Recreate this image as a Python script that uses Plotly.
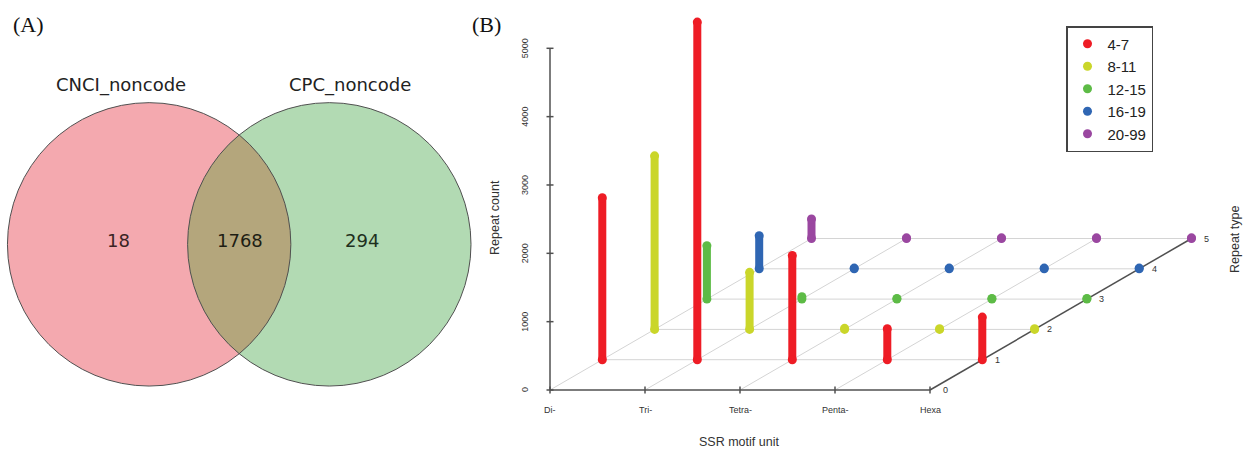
import numpy as np
import plotly.graph_objects as go

# ---------------- data ----------------
venn_sets = ["CNCI_noncode", "CPC_noncode"]
venn_only_a = 18
venn_both = 1768
venn_only_b = 294

motif_units = ["Di-", "Tri-", "Tetra-", "Penta-", "Hexa"]
repeat_types = ["4-7", "8-11", "12-15", "16-19", "20-99"]
counts_4_7 = [2370, 4940, 1525, 453, 624]
counts_8_11 = [2540, 835, 15, 10, 10]
counts_12_15 = [781, 35, 10, 10, 10]
counts_16_19 = [484, 10, 10, 10, 10]
counts_20_99 = [285, 10, 10, 10, 10]
series_counts = [counts_4_7, counts_8_11, counts_12_15, counts_16_19, counts_20_99]
series_colors = ["#EE1C25", "#CAD62A", "#5DBB46", "#2F66B3", "#9A47A0"]
count_ticks = [0, 1000, 2000, 3000, 4000, 5000]
depth_ticks = [0, 1, 2, 3, 4, 5]

# ---------------- geometry (pixels) ----------------
W, H = 1243, 450
X0PX, CATPX = 550.0, 95.0          # motif axis origin and step
Y0PX, CNTPX = 390.0, 341.7 / 5000  # count axis origin and px per count
DXPX, DYPX = 52.3, 30.3            # depth step (right / up)
DX = DXPX / CATPX
DY = DYPX / CNTPX


def proj(cat, depth, cnt):
    return cat + DX * depth, cnt + DY * depth


def px2cat(px):
    return (px - X0PX) / CATPX


def py2cnt(py):
    return (Y0PX - py) / CNTPX


fig = go.Figure()

# ---------- Panel B: grid ----------
gx, gy = [], []
ncat = len(motif_units)
for d in depth_ticks[1:]:
    a = proj(0, d, 0)
    b = proj(ncat - 1, d, 0)
    gx += [a[0], b[0], None]
    gy += [a[1], b[1], None]
for c in range(ncat - 1):
    a = proj(c, 0, 0)
    b = proj(c, depth_ticks[-1], 0)
    gx += [a[0], b[0], None]
    gy += [a[1], b[1], None]
fig.add_trace(go.Scatter(x=gx, y=gy, mode="lines", xaxis="x2", yaxis="y2",
                         line=dict(color="#D4D4D4", width=1), hoverinfo="skip", showlegend=False))

# ---------- axes lines ----------
ax_x, ax_y = [], []
a = proj(0, 0, 0); b = proj(ncat - 1, 0, 0)
ax_x += [a[0], b[0], None]; ax_y += [a[1], b[1], None]
a = proj(ncat - 1, 0, 0); b = proj(ncat - 1, depth_ticks[-1], 0)
ax_x += [a[0], b[0], None]; ax_y += [a[1], b[1], None]
ax_x += [0, 0, None]; ax_y += [0, count_ticks[-1], None]
tl = 3.5 / CATPX
for t in count_ticks:
    ax_x += [-tl, tl, None]; ax_y += [t, t, None]
tc = 3.5 / CNTPX
for c in range(ncat):
    ax_x += [c, c, None]; ax_y += [-tc, tc, None]
fig.add_trace(go.Scatter(x=ax_x, y=ax_y, mode="lines", xaxis="x2", yaxis="y2",
                         line=dict(color="#505050", width=1.5), hoverinfo="skip", showlegend=False))

# ---------- bars ----------
for d, (name, vals, col) in enumerate(zip(repeat_types, series_counts, series_colors), start=1):
    lx, ly, mx, my = [], [], [], []
    for c, v in enumerate(vals):
        b0 = proj(c, d, 0)
        b1 = proj(c, d, v)
        lx += [b0[0], b1[0], None]
        ly += [b0[1], b1[1], None]
        mx += [b0[0], b1[0]]
        my += [b0[1], b1[1]]
    fig.add_trace(go.Scatter(x=lx, y=ly, mode="lines", xaxis="x2", yaxis="y2",
                             line=dict(color=col, width=8), legendgroup=name,
                             showlegend=False, hoverinfo="skip"))
    fig.add_trace(go.Scatter(x=mx, y=my, mode="markers", xaxis="x2", yaxis="y2", name=name,
                             marker=dict(color=col, size=9), legendgroup=name, showlegend=True))

ann = []
small = dict(family="Liberation Sans, Arial, sans-serif", size=9, color="#333333")
for t in count_ticks:
    ann.append(dict(x=px2cat(525), y=t, xref="x2", yref="y2", text=str(t), showarrow=False,
                    textangle=-90, font=small))
for c, lab in enumerate(motif_units):
    ann.append(dict(x=c, y=py2cnt(410), xref="x2", yref="y2", text=lab, showarrow=False,
                    font=small))
for d in depth_ticks:
    p = proj(ncat - 1, d, 0)
    ann.append(dict(x=p[0] + 15 / CATPX, y=p[1], xref="x2", yref="y2", text=str(d),
                    showarrow=False, font=small))
lab_font = dict(family="Liberation Sans, Arial, sans-serif", size=12.5, color="#333333")
ann.append(dict(x=px2cat(495), y=py2cnt(218), xref="x2", yref="y2", text="Repeat count",
                showarrow=False, textangle=-90, font=lab_font))
ann.append(dict(x=px2cat(739), y=py2cnt(442), xref="x2", yref="y2", text="SSR motif unit",
                showarrow=False, font=lab_font))
ann.append(dict(x=px2cat(1235), y=py2cnt(240), xref="x2", yref="y2", text="Repeat type",
                showarrow=False, textangle=-90, font=lab_font))

# ---------- Panel A: Venn ----------
R = 141.7
C1 = (149.15, 244.35)
C2 = (329.3, 244.35)
PINK, GREEN, OLIVE = "#F4A9AF", "#B2DAB3", "#B4A67C"

dd = C2[0] - C1[0]
th = np.arccos((dd / 2) / R)
pts = [(C1[0] + R * np.cos(p), C1[1] + R * np.sin(p)) for p in np.linspace(-th, th, 60)]
pts += [(C2[0] + R * np.cos(p), C2[1] + R * np.sin(p)) for p in np.linspace(np.pi - th, np.pi + th, 60)]
lens_path = "M " + " L ".join(f"{x:.2f},{y:.2f}" for x, y in pts) + " Z"

shapes = [
    dict(type="circle", xref="x", yref="y", x0=C1[0] - R, x1=C1[0] + R, y0=C1[1] - R, y1=C1[1] + R,
         fillcolor=PINK, line=dict(width=0), layer="below"),
    dict(type="circle", xref="x", yref="y", x0=C2[0] - R, x1=C2[0] + R, y0=C2[1] - R, y1=C2[1] + R,
         fillcolor=GREEN, line=dict(width=0), layer="below"),
    dict(type="path", xref="x", yref="y", path=lens_path, fillcolor=OLIVE, line=dict(width=0),
         layer="below"),
    dict(type="circle", xref="x", yref="y", x0=C1[0] - R, x1=C1[0] + R, y0=C1[1] - R, y1=C1[1] + R,
         fillcolor="rgba(0,0,0,0)", line=dict(width=1, color="#505050"), layer="below"),
    dict(type="circle", xref="x", yref="y", x0=C2[0] - R, x1=C2[0] + R, y0=C2[1] - R, y1=C2[1] + R,
         fillcolor="rgba(0,0,0,0)", line=dict(width=1, color="#505050"), layer="below"),
]

vfont = dict(family="DejaVu Sans, sans-serif", size=18, color="#222222")
ann.append(dict(x=120.8, y=85, xref="x", yref="y", text=venn_sets[0], showarrow=False, font=vfont))
ann.append(dict(x=350, y=85, xref="x", yref="y", text=venn_sets[1], showarrow=False, font=vfont))
ann.append(dict(x=118.3, y=240, xref="x", yref="y", text=str(venn_only_a), showarrow=False,
                font=dict(family="DejaVu Sans, sans-serif", size=18, color="#3A2424")))
ann.append(dict(x=240, y=240, xref="x", yref="y", text=str(venn_both), showarrow=False,
                font=dict(family="DejaVu Sans, sans-serif", size=18, color="#1E1E14")))
ann.append(dict(x=361.5, y=240, xref="x", yref="y", text=str(venn_only_b), showarrow=False,
                font=dict(family="DejaVu Sans, sans-serif", size=18, color="#1E3020")))

pfont = dict(family="Liberation Serif, Times New Roman, serif", size=22, color="#111111")
ann.append(dict(x=28, y=24, xref="x", yref="y", text="(A)", showarrow=False, font=pfont))
ann.append(dict(x=486, y=24, xref="x", yref="y", text="(B)", showarrow=False, font=pfont))

fig.update_layout(
    width=W, height=H,
    margin=dict(l=0, r=0, t=0, b=0),
    paper_bgcolor="white", plot_bgcolor="rgba(0,0,0,0)",
    xaxis=dict(domain=[0, 1], range=[0, W], visible=False, fixedrange=True),
    yaxis=dict(domain=[0, 1], range=[H, 0], visible=False, fixedrange=True),
    xaxis2=dict(domain=[0, 1], range=[px2cat(0), px2cat(W)], visible=False, overlaying="x",
                fixedrange=True),
    yaxis2=dict(domain=[0, 1], range=[py2cnt(H), py2cnt(0)], visible=False, overlaying="y",
                fixedrange=True),
    shapes=shapes,
    annotations=ann,
    showlegend=True,
    legend=dict(x=1066 / W, y=1 - 26 / H, xanchor="left", yanchor="top",
                bgcolor="white", bordercolor="#444444", borderwidth=1.5,
                font=dict(family="Liberation Sans, Arial, sans-serif", size=15, color="#222222"),
                itemsizing="trace", tracegroupgap=0),
)

fig.write_html("out.html", config={"displayModeBar": False},
               post_script="document.body.style.margin='0';document.body.style.overflow='hidden';")
